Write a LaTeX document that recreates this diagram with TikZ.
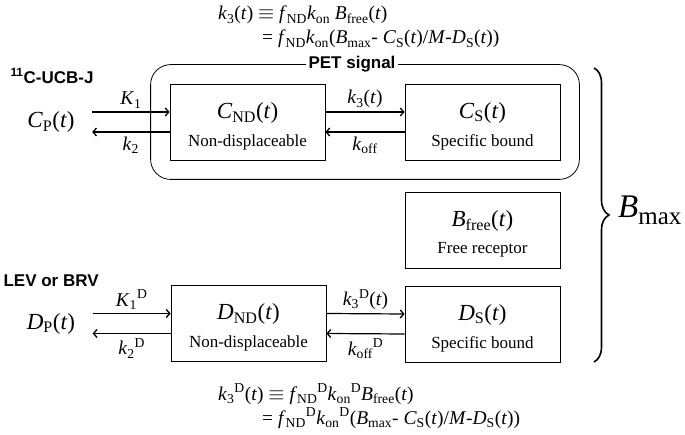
\documentclass[tikz,border=0pt]{standalone}
\usepackage{fontspec}
\setmainfont{Liberation Serif}
\newfontfamily\labfont{Liberation Sans}
\usetikzlibrary{decorations.pathreplacing,fit,arrows.meta}

\newcommand{\ti}[1]{\textit{#1}}
\newcommand{\lo}[1]{\textsubscript{#1}}
\newcommand{\hi}[1]{\textsuperscript{#1}}
\newcommand{\boxlab}[2]{{\fontsize{23}{23}\selectfont\rule{0pt}{24pt}#1}\\[10pt]{\fontsize{17}{17}\selectfont #2}}

\begin{document}
\begin{tikzpicture}[x=1pt,y=-1pt,
  box/.style={draw, line width=0.8pt, minimum width=155pt, minimum height=76pt, align=center, inner sep=0pt},
  arr/.style={-{Straight Barb[length=3.5pt,width=8pt,line width=1.3pt]}, line width=1.2pt},
  rate/.style={font=\fontsize{19.5}{19.5}\selectfont},
  eq/.style={anchor=base west, inner sep=0pt, font=\fontsize{19.5}{19.5}\selectfont},
  conc/.style={font=\fontsize{23}{23}\selectfont},
  tracer/.style={anchor=west, font=\labfont\bfseries\fontsize{17}{17}\selectfont}]

\useasboundingbox (0,0) rectangle (685,435);

% compartments
\node[box] (cnd) at (247.5,122) {\boxlab{\ti{C}\lo{ND}(\ti{t})}{Non-displaceable}};
\node[box] (cs) at (482.5,122) {\boxlab{\ti{C}\lo{S}(\ti{t})}{Specific bound}};
\node[box] (bfree) at (482.5,230) {\boxlab{\ti{B}\lo{free}(\ti{t})}{Free receptor}};
\node[box] (dnd) at (248.5,323.5) {\boxlab{\ti{D}\lo{ND}(\ti{t})}{Non-displaceable}};
\node[box] (ds) at (482.5,324) {\boxlab{\ti{D}\lo{S}(\ti{t})}{Specific bound}};

\node[draw, line width=0.8pt, rounded corners=20pt, inner sep=19pt, fit=(cnd)(cs)] (pet) {};
\node[fill=white, inner sep=3pt, font=\labfont\bfseries\fontsize{17}{17}\selectfont] (pettitle) at ([xshift=-13pt]pet.north) {PET signal};

% plasma
\node[conc] (cp) at (51,122) {\ti{C}\lo{P}(\ti{t})};
\node[conc] (dp) at (51,323.5) {\ti{D}\lo{P}(\ti{t})};
\node[tracer] (ucb) at (7,76) {\hi{11}C-UCB-J};
\node[tracer] (lev) at (0,281) {LEV or BRV};

% exchanges
\draw[arr] ([shift={(14pt,10pt)}]cp.east) -- ([yshift=10pt]cnd.west) node[midway,above,rate] {\ti{K}\lo{1}};
\draw[arr] ([yshift=-10pt]cnd.west) -- ([shift={(14pt,-10pt)}]cp.east) node[midway,below=1pt,rate] {\ti{k}\lo{2}};
\draw[arr] ([yshift=10pt]cnd.east) -- ([yshift=10pt]cs.west) node[midway,above,rate] {\ti{k}\lo{3}(\ti{t})};
\draw[arr] ([yshift=-10pt]cs.west) -- ([yshift=-10pt]cnd.east) node[midway,below=1pt,rate] {\ti{k}\lo{off}};

\draw[arr] ([shift={(14pt,10pt)}]dp.east) -- ([yshift=10pt]dnd.west) node[midway,above,rate] {\ti{K}\lo{1}\hi{D}};
\draw[arr] ([yshift=-10pt]dnd.west) -- ([shift={(14pt,-10pt)}]dp.east) node[midway,below=1pt,rate] {\ti{k}\lo{2}\hi{D}};
\draw[arr] ([yshift=10pt]dnd.east) -- ([yshift=10pt]ds.west) node[midway,above,rate] {\ti{k}\lo{3}\hi{D}(\ti{t})};
\draw[arr] ([yshift=-10pt]ds.west) -- ([yshift=-10pt]dnd.east) node[midway,below=1pt,rate] {\ti{k}\lo{off}\hi{D}};

% total receptor
\draw[decorate, decoration={brace, amplitude=15pt}, line width=1.6pt] (594,68) -- (594,362);
\node[anchor=base west, inner sep=0pt, font=\fontsize{33}{33}\selectfont] (bmax) at (618,218) {\ti{B}\raisebox{-7pt}{\fontsize{25}{25}\selectfont max}};

% rate equations
\node[eq] (eqa) at (218,20) {\ti{k}\lo{3}(\ti{t}) $\equiv$ \ti{f}\lo{ND}\ti{k}\lo{on} \ti{B}\lo{free}(\ti{t})};
\node[eq] (eqb) at (262,44) {= \ti{f}\lo{ND}\ti{k}\lo{on}(\ti{B}\lo{max}- \ti{C}\lo{S}(\ti{t})/\ti{M}-\ti{D}\lo{S}(\ti{t}))};
\node[eq] (eqc) at (218,400) {\ti{k}\lo{3}\hi{D}(\ti{t}) $\equiv$ \ti{f}\lo{ND}\hi{D}\ti{k}\lo{on}\hi{D}\ti{B}\lo{free}(\ti{t})};
\node[eq] (eqd) at (262,424) {= \ti{f}\lo{ND}\hi{D}\ti{k}\lo{on}\hi{D}(\ti{B}\lo{max}- \ti{C}\lo{S}(\ti{t})/\ti{M}-\ti{D}\lo{S}(\ti{t}))};
\end{tikzpicture}
\end{document}
